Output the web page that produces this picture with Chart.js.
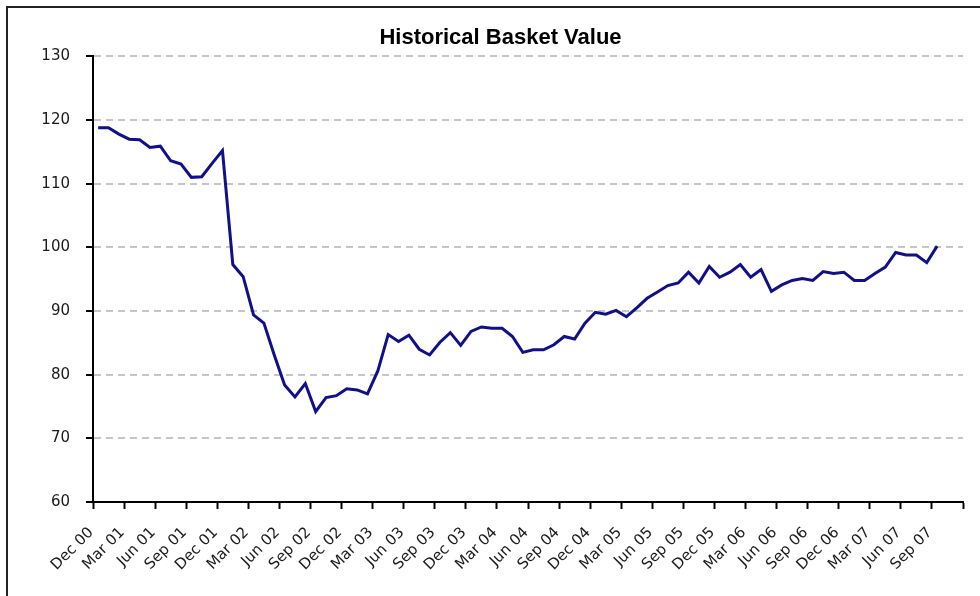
<!DOCTYPE html>
<html>
<head>
<meta charset="utf-8">
<title>Historical Basket Value</title>
<script src="https://cdn.jsdelivr.net/npm/chart.js@4.4.1/dist/chart.umd.min.js"></script>
<style>
    html, body { margin: 0; padding: 0; background: #fff; overflow: hidden; }
    .frame {
        position: absolute; left: 6px; top: 6px;
        width: 1010px; height: 620px;
        border: 2px solid #222;
    }
    .wrap { position: absolute; left: 0; top: 0; width: 980px; height: 596px; }
</style>
</head>
<body>
<div class="frame"></div>
<div class="wrap"><canvas id="basketChart"></canvas></div>

<script>
// monthly categories, Dec 00 .. Nov 07 (labels shown every quarter)
const months = [
    "Dec 00",
    "Jan 01","Feb 01","Mar 01","Apr 01","May 01","Jun 01","Jul 01","Aug 01","Sep 01","Oct 01","Nov 01","Dec 01",
    "Jan 02","Feb 02","Mar 02","Apr 02","May 02","Jun 02","Jul 02","Aug 02","Sep 02","Oct 02","Nov 02","Dec 02",
    "Jan 03","Feb 03","Mar 03","Apr 03","May 03","Jun 03","Jul 03","Aug 03","Sep 03","Oct 03","Nov 03","Dec 03",
    "Jan 04","Feb 04","Mar 04","Apr 04","May 04","Jun 04","Jul 04","Aug 04","Sep 04","Oct 04","Nov 04","Dec 04",
    "Jan 05","Feb 05","Mar 05","Apr 05","May 05","Jun 05","Jul 05","Aug 05","Sep 05","Oct 05","Nov 05","Dec 05",
    "Jan 06","Feb 06","Mar 06","Apr 06","May 06","Jun 06","Jul 06","Aug 06","Sep 06","Oct 06","Nov 06","Dec 06",
    "Jan 07","Feb 07","Mar 07","Apr 07","May 07","Jun 07","Jul 07","Aug 07","Sep 07","Oct 07","Nov 07"
];

// basket value, Dec 00 .. Sep 07
const basketValue = [
    118.8, 118.8, 117.8, 117.0, 116.9, 115.7, 115.9, 113.6, 113.1, 111.0, 111.1, 113.2, 115.2,
    97.3, 95.4, 89.4, 88.1, 83.1, 78.4, 76.5, 78.6, 74.2, 76.4, 76.7, 77.8,
    77.6, 77.0, 80.6, 86.3, 85.2, 86.2, 84.0, 83.1, 85.1, 86.6, 84.6, 86.8,
    87.5, 87.3, 87.3, 86.0, 83.5, 83.9, 83.9, 84.7, 86.0, 85.6, 88.1, 89.8,
    89.5, 90.1, 89.1, 90.5, 92.0, 93.0, 94.0, 94.4, 96.1, 94.4, 97.0, 95.3,
    96.1, 97.3, 95.3, 96.5, 93.1, 94.1, 94.8, 95.1, 94.8, 96.2, 95.9, 96.1,
    94.8, 94.8, 95.9, 96.9, 99.2, 98.8, 98.8, 97.6, 100.2
];

const yMin = 60;
const yMax = 130;
const yStep = 10;
const labelEvery = 3;

new Chart(document.getElementById("basketChart"), {
    type: "line",
    data: {
        labels: months,
        datasets: [{
            label: "Basket Value",
            data: basketValue,
            borderColor: "#10108a",
            borderWidth: 3,
            pointRadius: 0,
            tension: 0,
            fill: false
        }]
    },
    options: {
        responsive: true,
        maintainAspectRatio: false,
        animation: false,
        layout: { padding: { left: 38, right: 17, top: 0, bottom: 0 } },
        plugins: {
            legend: { display: false },
            tooltip: { enabled: false },
            title: {
                display: true,
                text: "Historical Basket Value",
                color: "#000",
                font: { family: "'Liberation Sans', Arial, sans-serif", size: 22, weight: "bold" },
                padding: { top: 25, bottom: 5 }
            }
        },
        scales: {
            x: {
                type: "category",
                offset: true,
                afterFit: s => {
                    s.height = 94;
                    s.paddingRight = 0;   // keep the plot running out to the right edge
                },
                grid: {
                    offset: true,
                    drawOnChartArea: false,
                    drawTicks: true,
                    tickLength: 7,
                    tickWidth: 2,
                    tickColor: c => (c.index === undefined || c.index % labelEvery === 0) ? "#000" : "rgba(0,0,0,0)"
                },
                border: { display: true, color: "#000", width: 2 },
                ticks: {
                    autoSkip: false,
                    minRotation: 45,
                    maxRotation: 45,
                    padding: 15,
                    labelOffset: -7,
                    color: "#1a1a1a",
                    font: { family: "'DejaVu Sans', sans-serif", size: 15 },
                    callback: (v, i) => i % labelEvery === 0 ? months[i] : ""
                }
            },
            y: {
                min: yMin,
                max: yMax,
                afterFit: s => { s.width = 55; },
                grid: {
                    color: c => (c.tick && c.tick.value === yMin) ? "rgba(0,0,0,0)" : "#c6c6c6",
                    lineWidth: 2,
                    drawTicks: true,
                    tickLength: 7,
                    tickWidth: 2,
                    tickColor: "#000",
                    tickBorderDash: []
                },
                border: { display: true, color: "#000", width: 2, dash: [7, 5] },
                ticks: {
                    stepSize: yStep,
                    padding: 16,
                    color: "#1a1a1a",
                    font: { family: "'DejaVu Sans', sans-serif", size: 15 }
                }
            }
        }
    }
});
</script>
</body>
</html>
